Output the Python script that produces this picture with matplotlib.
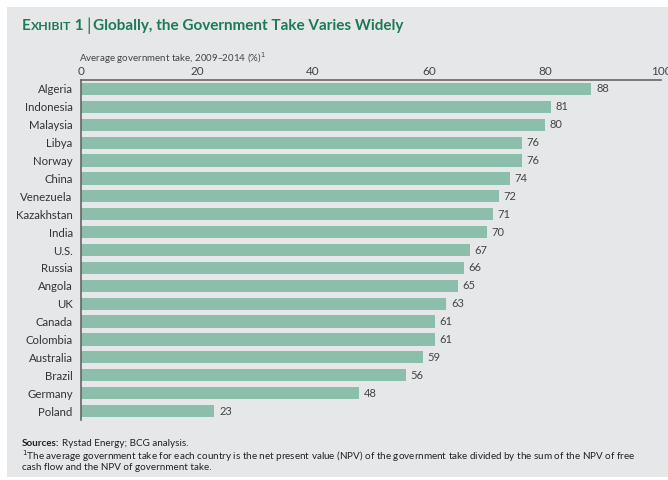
import matplotlib
matplotlib.use("Agg")
import matplotlib.pyplot as plt
from matplotlib.patches import Rectangle

countries = ["Algeria", "Indonesia", "Malaysia", "Libya", "Norway", "China", "Venezuela",
             "Kazakhstan", "India", "U.S.", "Russia", "Angola", "UK", "Canada", "Colombia",
             "Australia", "Brazil", "Germany", "Poland"]
values = [88, 81, 80, 76, 76, 74, 72, 71, 70, 67, 66, 65, 63, 61, 61, 59, 56, 48, 23]
xticks = [0, 20, 40, 60, 80, 100]

plt.rcParams['font.family'] = ['Lato', 'DejaVu Sans']
W, H = 668, 480
fig = plt.figure(figsize=(W/100, H/100), dpi=100, facecolor="white")
bg = "#e6e7e8"
fig.patches.append(Rectangle((7/W, 3/H), 1, 1 - 10/H, transform=fig.transFigure,
                             facecolor=bg, edgecolor="none", zorder=-10))

ax = fig.add_axes([81/W, 1 - 420/H, 580/W, (420 - 80)/H])
ax.set_facecolor(bg)
ax.patch.set_alpha(0)
pos = list(range(len(countries)))
ax.barh(pos, values, height=0.68, color="#8bbfac", edgecolor="none")
ax.set_ylim(len(countries) - 0.5, -0.5)
ax.set_xlim(0, 100)
ax.xaxis.tick_top()
ax.set_xticks(xticks)
ax.set_xticklabels([str(t) for t in xticks], fontsize=8.5, color="#444444")
ax.tick_params(axis="x", length=0, pad=2)
ax.set_yticks(pos)
ax.set_yticklabels(countries, fontsize=8.2, color="#333333")
ax.tick_params(axis="y", length=0, pad=6)
for s in ["right", "bottom"]:
    ax.spines[s].set_visible(False)
ax.spines["top"].set_color("#666666")
ax.spines["left"].set_color("#666666")
ax.spines["top"].set_linewidth(1.2)
ax.spines["left"].set_linewidth(1.2)
for p, v in zip(pos, values):
    ax.text(v + 0.8, p, str(v), va="center", ha="left", fontsize=8, color="#444444")

green = "#1d7a55"
fig.canvas.draw()
r = fig.canvas.get_renderer()
x = 22 / W
y = 1 - 30 / H
pieces = [("E", 11), ("XHIBIT", 8.8), (" 1", 11)]
for txt, sz in pieces:
    t = fig.text(x, y, txt, fontsize=sz, fontweight="bold", color=green, va="baseline", ha="left")
    bb = t.get_window_extent(r)
    x += bb.width / W
t = fig.text(x + 3/W, y - 1/H, "|", fontsize=12.5, color=green, va="baseline", ha="left")
bb = t.get_window_extent(r)
x += bb.width / W + 5/W
fig.text(x, y, "Globally, the Government Take Varies Widely", fontsize=11, fontweight="bold",
         color=green, va="baseline", ha="left")

fig.text(79/W, 1 - 58/H, "Average government take, 2009–2014 (%)$^1$", fontsize=7,
         color="#444444", va="center", ha="left")

t = fig.text(22/W, 1 - 444/H, "Sources:", fontsize=7.1, fontweight="bold", color="#222222",
             va="center", ha="left")
bb = t.get_window_extent(r)
fig.text(22/W + bb.width / W + 3/W, 1 - 444/H, "Rystad Energy; BCG analysis.", fontsize=7.1,
         color="#222222", va="center", ha="left")
fig.text(22/W, 1 - 456/H, "$^1$The average government take for each country is the net present value (NPV) of the government take divided by the sum of the NPV of free",
         fontsize=7.1, color="#222222", va="center", ha="left")
fig.text(22/W, 1 - 468/H, "cash flow and the NPV of government take.", fontsize=7.1, color="#222222",
         va="center", ha="left")

fig.savefig("out.png", dpi=100, facecolor="white")
